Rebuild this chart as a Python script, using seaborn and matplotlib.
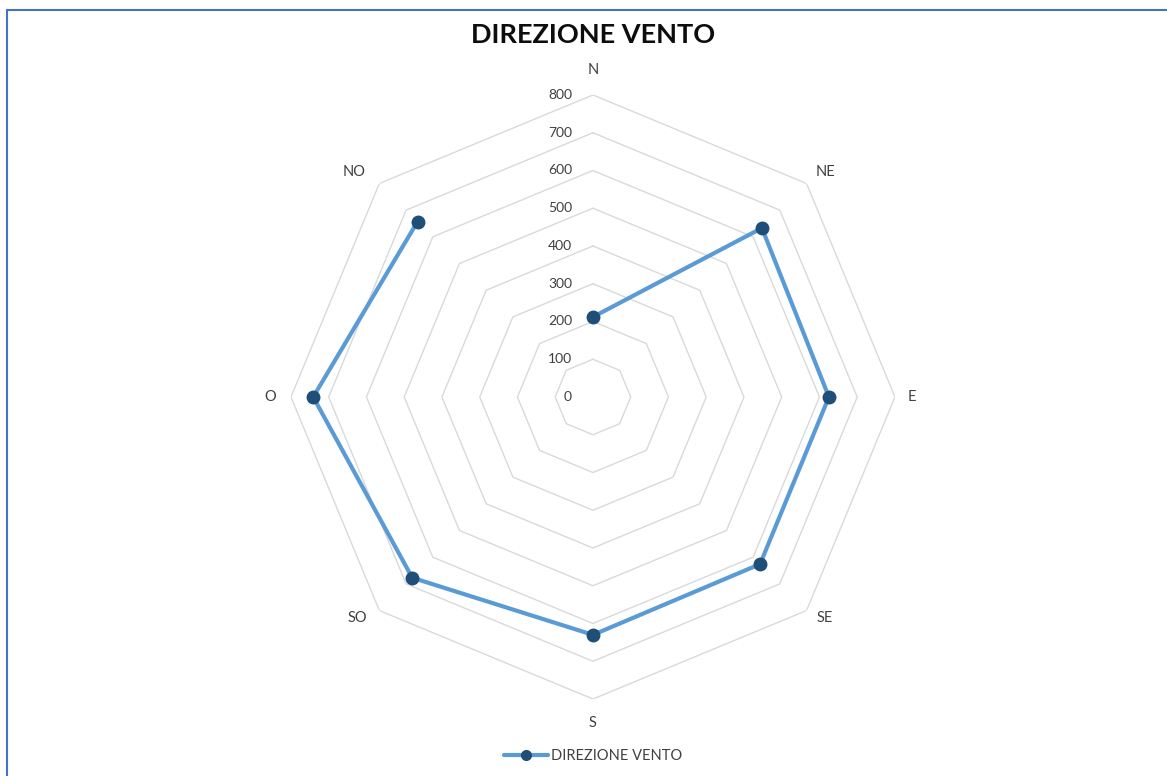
import numpy as np
import pandas as pd
import seaborn as sns
import matplotlib.pyplot as plt
from matplotlib.lines import Line2D

# values
directions = ['N', 'NE', 'E', 'SE', 'S', 'SO', 'O', 'NO']
counts = [212, 633, 625, 626, 630, 677, 741, 657]
rings = [0, 100, 200, 300, 400, 500, 600, 700, 800]
title = 'DIREZIONE VENTO'

sns.set_theme(style='white')
plt.rcParams['font.family'] = ['Lato', 'DejaVu Sans']

line_col = '#5B9BD5'
mark_col = '#1F4E79'
grid_col = '#D9D9D9'

fig = plt.figure(figsize=(11.67, 7.76), dpi=100)
ax = fig.add_axes([0.2493, 0.0992, 0.5176, 0.7784], projection='polar')
ax.set_theta_zero_location('N')
ax.set_theta_direction(-1)
ax.set_ylim(0, rings[-1])
ax.grid(False)
ax.spines['polar'].set_visible(False)
ax.set_xticks([])
ax.set_yticks([])
ax.patch.set_alpha(0)

theta = np.linspace(0, 2 * np.pi, len(directions), endpoint=False)
closed = np.append(theta, theta[0])

# octagon rings only, no spokes
for r in rings[1:]:
    ax.plot(closed, [r] * len(closed), color=grid_col, lw=1, zorder=1)

df = pd.DataFrame({'theta': closed, 'value': counts + counts[:1]})
sns.lineplot(data=df, x='theta', y='value', sort=False, ax=ax, color=line_col,
             lw=3, zorder=3, legend=False)
ax.plot(theta, counts, 'o', color=mark_col, ms=9, zorder=4)
ax.set_xlabel('')
ax.set_ylabel('')

for r in rings:
    ax.annotate(str(r), (0, r), xytext=(-15, 0), textcoords='offset points',
                ha='right', va='center', fontsize=10, color='#404040')

# label offsets from the outer ring vertex, in points
offsets = [(0, 18), (14, 8), (12, 0), (13, -5), (0, -17), (-16, -5), (-15, 0), (-18, 8)]
for t, lab, off in zip(theta, directions, offsets):
    ax.annotate(lab, (t, rings[-1]), xytext=off, textcoords='offset points',
                ha='center', va='center', fontsize=10.5, color='#404040',
                annotation_clip=False)

fig.text(0.5081, 0.955, title, ha='center', va='center', fontsize=19.5,
         fontweight='bold', color='#0D0D0D')

handle = Line2D([], [], color=line_col, lw=3, marker='o', ms=7,
                markerfacecolor=mark_col, markeredgecolor=mark_col)
fig.legend([handle], [title], loc='center', bbox_to_anchor=(0.5081, 0.026),
           frameon=False, fontsize=10.5, handlelength=3, handletextpad=0.2,
           labelcolor='#404040')

# frame edges seen in the reference (top and left)
fig.add_artist(Line2D([7 / 1167, 1], [1 - 10 / 776, 1 - 10 / 776],
                      transform=fig.transFigure, color='#4472C4', lw=1.5))
fig.add_artist(Line2D([7 / 1167, 7 / 1167], [0, 1 - 10 / 776],
                      transform=fig.transFigure, color='#4472C4', lw=1.5))

fig.savefig('out.png', dpi=100)
